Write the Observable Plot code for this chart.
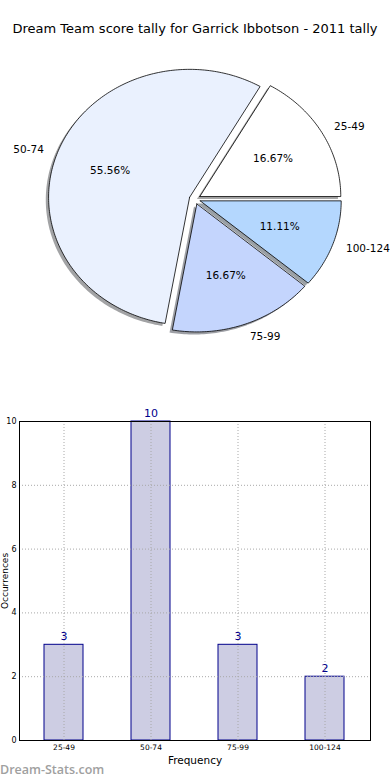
<!DOCTYPE html>
<html><head><meta charset="utf-8">
<script src="https://cdn.jsdelivr.net/npm/d3@7"></script>
<script src="https://cdn.jsdelivr.net/npm/@observablehq/plot@0.6"></script>
<style>
body{margin:0;background:#fff;width:390px;height:780px;position:relative;overflow:hidden;font-family:"DejaVu Sans",sans-serif;}
#title{position:absolute;top:21px;left:0;width:390px;text-align:center;font-size:13px;color:#000;}
#pie{position:absolute;top:0;left:0;}
#bar{position:absolute;top:400px;left:0;}
#wm{position:absolute;left:0;top:761px;font-size:12.5px;color:#a0a0a0;font-weight:600;font-family:"Open Sans",sans-serif;}
svg{overflow:visible;}
</style></head><body>
<div id="pie"></div><div id="bar"></div>
<div id="title">Dream Team score tally for Garrick Ibbotson - 2011 tally</div>
<div id="wm">Dream-Stats.com</div>
<script>
const categories = ["25-49", "50-74", "75-99", "100-124"];
const counts = [3, 10, 3, 2];
const sliceColors = ["#ffffff", "#eaf1fe", "#c4d5fd", "#b4d7fe"];
const yTicks = [0, 2, 4, 6, 8, 10];
const titleText = "Dream Team score tally for Garrick Ibbotson - 2011 tally";
const xLabel = "Frequency";
const yLabel = "Occurrences";

document.getElementById("title").textContent = titleText;

// ---- pie geometry (matplotlib style: start at 0°, counter-clockwise, exploded)
const total = d3.sum(counts);
const explode = 0.04;
let cum = 0;
const slices = categories.map((c, i) => {
  const a0 = cum / total * 2 * Math.PI; cum += counts[i];
  const a1 = cum / total * 2 * Math.PI;
  const mid = (a0 + a1) / 2;
  const ox = explode * Math.cos(mid), oy = explode * Math.sin(mid);
  const n = Math.max(2, Math.ceil((a1 - a0) / (Math.PI / 180)));
  const pts = [[ox, oy]];
  for (let k = 0; k <= n; k++) {
    const a = a0 + (a1 - a0) * k / n;
    pts.push([ox + Math.cos(a), oy + Math.sin(a)]);
  }
  pts.push([ox, oy]);
  return {c, i, pts, mid, ox, oy, pct: counts[i] / total * 100, color: sliceColors[i]};
});

const shadowMarks = slices.map(s => {
  const col = d3.rgb(s.color);
  const sc = d3.rgb(col.r * 0.3, col.g * 0.3, col.b * 0.3);
  return Plot.line(s.pts, {x: d => d[0] - 0.02, y: d => d[1] - 0.02, fill: sc.formatHex(), fillOpacity: 0.5, stroke: "none"});
});
const wedgeMarks = slices.map(s =>
  Plot.line(s.pts, {x: d => d[0], y: d => d[1], fill: s.color, stroke: "#000", strokeWidth: 0.8, strokeLinejoin: "miter"})
);
const labR = slices.filter(s => Math.cos(s.mid) >= 0);
const labL = slices.filter(s => Math.cos(s.mid) < 0);

const cx = 194.4, cy = 198.6, rx = 141, ry = 128;
const pie = Plot.plot({
  width: 390, height: 370,
  style: {fontFamily: "DejaVu Sans", background: "transparent", overflow: "visible"},
  x: {domain: [-1, 1], range: [cx - rx, cx + rx], axis: null},
  y: {domain: [-1, 1], range: [cy + ry, cy - ry], axis: null},
  marks: [
    ...shadowMarks,
    ...wedgeMarks,
    Plot.text(labR, {x: d => d.ox + 1.1 * Math.cos(d.mid), y: d => d.oy + 1.1 * Math.sin(d.mid), text: "c", textAnchor: "start", fontSize: 10.5, fill: "#000"}),
    Plot.text(labL, {x: d => d.ox + 1.1 * Math.cos(d.mid), y: d => d.oy + 1.1 * Math.sin(d.mid), text: "c", textAnchor: "end", fontSize: 10.5, fill: "#000"}),
    Plot.text(slices, {x: d => d.ox + 0.6 * Math.cos(d.mid), y: d => d.oy + 0.6 * Math.sin(d.mid), text: d => d.pct.toFixed(2) + "%", textAnchor: "middle", fontSize: 10.5, fill: "#000"})
  ]
});
document.getElementById("pie").appendChild(pie);

// ---- bar chart
const barData = categories.map((c, i) => ({c, v: counts[i]}));
const bar = Plot.plot({
  width: 390, height: 380,
  marginLeft: 19, marginRight: 20, marginTop: 21, marginBottom: 40,
  style: {fontFamily: "DejaVu Sans", background: "transparent", overflow: "visible"},
  x: {domain: categories, paddingInner: 0.55, paddingOuter: 0.275, label: null},
  y: {domain: [0, 10], label: null},
  marks: [
    Plot.barY(barData, {x: "c", y: "v", fill: "#cdcde3", stroke: "#00008b", strokeWidth: 1}),
    Plot.gridY(yTicks, {stroke: "#a8a8a8", strokeOpacity: 1, strokeDasharray: "1,2", strokeWidth: 1}),
    Plot.gridX(categories, {stroke: "#a8a8a8", strokeOpacity: 1, strokeDasharray: "1,2", strokeWidth: 1}),
    Plot.text(barData, {x: "c", y: "v", text: d => String(d.v), dy: -8, fontSize: 11, fill: "#00008b"}),
    Plot.frame({stroke: "#000", strokeWidth: 1}),
    Plot.axisY(yTicks, {tickSize: 0, tickPadding: 3, fontSize: 8, label: null, fill: "#000"}),
    Plot.axisX(categories, {tickSize: 0, tickPadding: 4, fontSize: 7.5, label: null, fill: "#000"}),
    Plot.text([xLabel], {frameAnchor: "bottom", dy: 20, lineAnchor: "middle", fontSize: 10.5, fill: "#000"}),
    Plot.text([yLabel], {frameAnchor: "left", dx: -18, rotate: -90, textAnchor: "middle", lineAnchor: "top", fontSize: 9, fill: "#000"})
  ]
});
document.getElementById("bar").appendChild(bar);
</script>
</body></html>
